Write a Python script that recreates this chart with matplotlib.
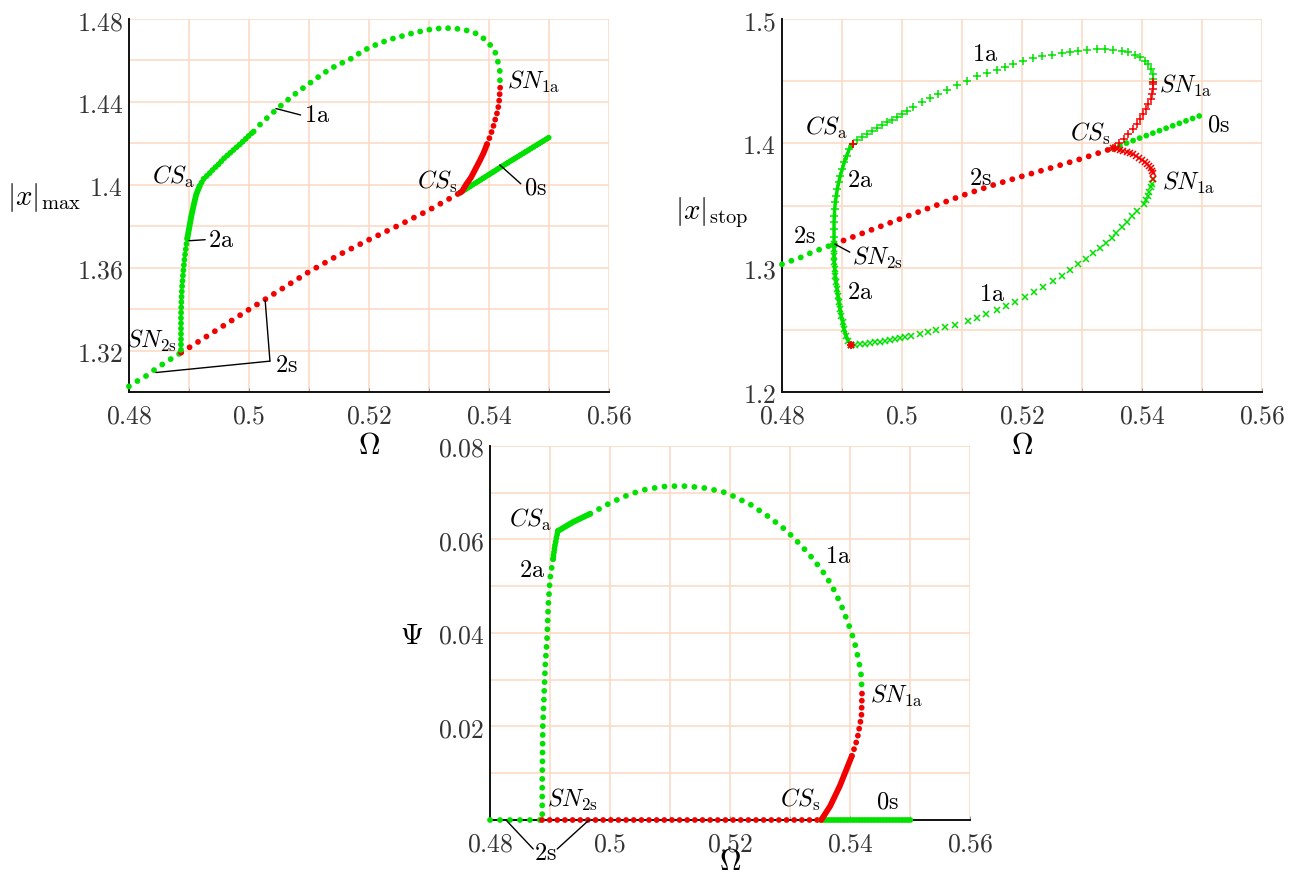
import numpy as np
import matplotlib
matplotlib.use("Agg")
import matplotlib.pyplot as plt
from matplotlib.ticker import FixedLocator, MultipleLocator, FuncFormatter

plt.rcParams["mathtext.fontset"] = "cm"

GREEN = "#00e100"
RED = "#f20000"
GRID = "#fdd8c2"

# symmetric branch 2s (stable part, then unstable part) and 0s
om_2s = [0.48, 0.4813, 0.483, 0.4845, 0.4863, 0.4887]
x_2s = [1.3027, 1.3051, 1.308, 1.3113, 1.3147, 1.319]
om_2s_u = [0.4887, 0.495, 0.5, 0.505, 0.51, 0.515, 0.52, 0.525, 0.53, 0.5352]
x_2s_u = [1.319, 1.3306, 1.3398, 1.3489, 1.358, 1.3662, 1.3735, 1.3805, 1.3878, 1.3962]
om_0s = [0.5352, 0.5425, 0.5502]
x_0s = [1.3962, 1.4095, 1.4232]

# asymmetric branch 1a, stable part from CS_a to SN_1a (upper stop = |x|max)
om_1a = [0.49178, 0.49245, 0.49328, 0.49411, 0.49495, 0.49578, 0.49661, 0.49745,
         0.49828, 0.49911, 0.49995, 0.50078, 0.50189, 0.50328, 0.50467, 0.50605,
         0.50745, 0.50911, 0.51078, 0.51245, 0.51411, 0.51578, 0.51717, 0.51855,
         0.52022, 0.52189, 0.52328, 0.52495, 0.52662, 0.528, 0.52938, 0.53078,
         0.53245, 0.53383, 0.53522, 0.53662, 0.53772, 0.53883, 0.53967, 0.5405,
         0.54105, 0.54145, 0.54178, 0.54188, 0.54178]
x_1a = [1.3994, 1.4029, 1.4051, 1.4077, 1.4099, 1.4126, 1.4147, 1.4169,
        1.419, 1.4212, 1.4236, 1.4257, 1.4292, 1.433, 1.4366, 1.44,
        1.4433, 1.4469, 1.4504, 1.4539, 1.4568, 1.4592, 1.4611, 1.4638,
        1.4665, 1.4684, 1.47, 1.4713, 1.4727, 1.4737, 1.4745, 1.4753,
        1.4756, 1.4756, 1.4751, 1.4743, 1.4732, 1.4713, 1.4692, 1.4665,
        1.4638, 1.4598, 1.4558, 1.4517, 1.4493]
# 1a unstable part, CS_s -> SN_1a
om_1a_u = [0.5352, 0.5355, 0.53622, 0.537, 0.53772, 0.53845, 0.53912, 0.53967,
           0.54022, 0.54067, 0.54105, 0.54145, 0.54167, 0.54178, 0.54188, 0.54178]
x_1a_u = [1.3962, 1.3968, 1.4003, 1.4035, 1.4075, 1.4115, 1.4155, 1.4196,
          1.4236, 1.4276, 1.4316, 1.4357, 1.4397, 1.4437, 1.4477, 1.4493]

# lower stop value of 1a: unstable CS_s -> SN_1a, stable SN_1a -> corner
om_1a_lu = [0.5352, 0.5358, 0.53633, 0.5369, 0.53745, 0.538, 0.53855, 0.53905,
            0.53955, 0.54, 0.5405, 0.5409, 0.54122, 0.54148, 0.54167, 0.54182, 0.54188]
x_1a_lu = [1.3962, 1.3956, 1.3949, 1.3941, 1.3932, 1.3923, 1.3913, 1.39,
           1.3886, 1.387, 1.3852, 1.3836, 1.382, 1.38, 1.3781, 1.376, 1.3714]
om_1a_l = [0.54188, 0.54172, 0.5415, 0.54122, 0.54095, 0.54067, 0.54033, 0.53912,
           0.53828, 0.53745, 0.53662, 0.53567, 0.53495, 0.534, 0.533, 0.53188,
           0.53067, 0.52938, 0.528, 0.52662, 0.52512, 0.52355, 0.52205, 0.5205,
           0.51883, 0.51733, 0.51578, 0.51405, 0.51255, 0.511, 0.50888, 0.50722,
           0.50572, 0.50433, 0.50295, 0.50155, 0.50045, 0.49962, 0.49878, 0.49795,
           0.49712, 0.49628, 0.49545, 0.49462, 0.49378, 0.49295, 0.49212, 0.49145]
x_1a_l = [1.3714, 1.3673, 1.3646, 1.3611, 1.3579, 1.3544, 1.3512, 1.3458,
          1.3413, 1.3364, 1.3324, 1.3276, 1.3238, 1.3198, 1.3155, 1.3115,
          1.3069, 1.3029, 1.2983, 1.2935, 1.289, 1.2847, 1.2806, 1.2766,
          1.2726, 1.2694, 1.2659, 1.2627, 1.2598, 1.2573, 1.2538, 1.2519,
          1.2498, 1.2479, 1.2466, 1.2452, 1.2439, 1.2431, 1.2426, 1.2418,
          1.241, 1.2404, 1.2399, 1.2393, 1.2388, 1.2383, 1.238, 1.2377]

# branch 2a: CS_a -> SN_2s (upper) and corner -> SN_2s (lower)
om_2a = [0.49178, 0.49122, 0.49078, 0.49038, 0.49005, 0.48972, 0.48945, 0.48922,
         0.48905, 0.48889, 0.48878, 0.48872, 0.48867, 0.48867, 0.48867, 0.48867]
x_2a = [1.3994, 1.3954, 1.3901, 1.3847, 1.3794, 1.374, 1.3687, 1.3633,
        1.3579, 1.3526, 1.3472, 1.3418, 1.3365, 1.331, 1.325, 1.319]
om_2a_l = [0.49145, 0.49105, 0.49067, 0.49033, 0.49012, 0.48988, 0.48967, 0.4895,
           0.48933, 0.48917, 0.489, 0.48889, 0.48878, 0.48872, 0.48867, 0.48867, 0.48867]
x_2a_l = [1.2377, 1.2412, 1.2452, 1.2506, 1.256, 1.2613, 1.2667, 1.2721,
          1.2774, 1.2828, 1.2882, 1.2935, 1.2989, 1.3043, 1.3096, 1.315, 1.319]

# asymmetry measure Psi
om_psi_1a = [0.4913, 0.4938, 0.4967, 0.5, 0.5033, 0.5062, 0.5095, 0.5128, 0.5158,
             0.5188, 0.5205, 0.5235, 0.5265, 0.5293, 0.5318, 0.534, 0.536, 0.5375,
             0.5388, 0.5398, 0.5407, 0.5413, 0.5418, 0.5419, 0.542]
psi_1a = [0.0618, 0.0637, 0.0655, 0.0678, 0.0697, 0.0708, 0.0714, 0.0714, 0.071,
          0.0702, 0.0693, 0.0674, 0.0648, 0.062, 0.0588, 0.0556, 0.0522, 0.0488,
          0.0451, 0.0417, 0.0383, 0.0349, 0.0317, 0.0295, 0.0274]
om_psi_1a_u = [0.5352, 0.5367, 0.5383, 0.5403, 0.5412, 0.5419, 0.542]
psi_1a_u = [0.0, 0.003, 0.0073, 0.0137, 0.0173, 0.0222, 0.0274]
om_psi_2a = [0.4913, 0.4908, 0.4905, 0.49, 0.4897, 0.4895, 0.4892, 0.4888, 0.4887, 0.4887]
psi_2a = [0.0618, 0.0586, 0.0558, 0.0516, 0.0458, 0.0387, 0.033, 0.0201, 0.0081, 0.0]


def dots(ax, om, val, color, gap, lw=4.2):
    ls = "-" if gap == 0 else (0, (0.01, gap))
    ax.plot(om, val, color=color, lw=lw, ls=ls, dash_capstyle="round",
            solid_capstyle="round", zorder=3, clip_on=False)


def fmt(v, pos):
    return f"${v:g}$"


def setup(ax, ylim, ymajor, yminor, ylabel, ylab_xy, xlab_y, xlab_va="top"):
    ax.set_xlim(0.48, 0.56)
    ax.set_ylim(*ylim)
    ax.xaxis.set_major_locator(FixedLocator([0.48, 0.5, 0.52, 0.54, 0.56]))
    ax.xaxis.set_minor_locator(MultipleLocator(0.01))
    ax.yaxis.set_major_locator(FixedLocator(ymajor))
    ax.yaxis.set_minor_locator(MultipleLocator(yminor))
    ax.xaxis.set_major_formatter(FuncFormatter(fmt))
    ax.yaxis.set_major_formatter(FuncFormatter(fmt))
    ax.grid(which="both", color=GRID, lw=1.1)
    ax.set_axisbelow(True)
    for s in ["top", "right"]:
        ax.spines[s].set_visible(False)
    for s in ["left", "bottom"]:
        ax.spines[s].set_color("#111111")
        ax.spines[s].set_linewidth(1.4)
    ax.tick_params(axis="x", which="both", direction="in", length=3, color="#999999",
                   labelsize=18.5, pad=7.5, labelcolor="#333333")
    ax.tick_params(axis="y", which="both", length=0, labelsize=18.5, pad=4,
                   labelcolor="#333333")
    ax.set_xlabel(r"$\Omega$", fontsize=21.5, va=xlab_va)
    ax.xaxis.set_label_coords(0.5, xlab_y)
    ax.set_ylabel(ylabel, fontsize=21, rotation=0, ha="center", va="center")
    ax.yaxis.set_label_coords(*ylab_xy)


def label(ax, x, y, s, ha="center"):
    ax.text(x, y, s, fontsize=17.5, ha=ha, va="center", zorder=5)


def leader(ax, p0, p1):
    ax.annotate("", xy=p0, xytext=p1, annotation_clip=False,
                arrowprops=dict(arrowstyle="-", lw=1.0, color="k", shrinkA=0, shrinkB=0))


fig = plt.figure(figsize=(12.96, 8.79), dpi=100)
ax1 = fig.add_axes([0.0995, 0.5529, 0.3704, 0.4243])
ax2 = fig.add_axes([0.6034, 0.5529, 0.3704, 0.4243])
ax3 = fig.add_axes([0.3781, 0.066, 0.3704, 0.4255])

# |x|max
setup(ax1, (1.30, 1.48), [1.32, 1.36, 1.40, 1.44, 1.48], 0.02,
      r"$|x|_{\max}$", (-0.177, 0.525), -0.102)
dots(ax1, om_2s, x_2s, GREEN, 1.7)
dots(ax1, om_2s_u, x_2s_u, RED, 1.7)
dots(ax1, om_0s, x_0s, GREEN, 0.5)
dots(ax1, om_1a_u[:8], x_1a_u[:8], RED, 0)
dots(ax1, om_1a_u[7:], x_1a_u[7:], RED, 1.1)
dots(ax1, om_1a[:12], x_1a[:12], GREEN, 0.7)
dots(ax1, om_1a[11:], x_1a[11:], GREEN, 1.6)
dots(ax1, om_2a[:6], x_2a[:6], GREEN, 0)
dots(ax1, om_2a[5:], x_2a[5:], GREEN, 0.9)

leader(ax1, (0.5045, 1.4368), (0.5086, 1.4337))
label(ax1, 0.5091, 1.4342, r"$\mathrm{1a}$", "left")
leader(ax1, (0.5418, 1.4096), (0.5453, 1.4005))
label(ax1, 0.5458, 1.399, r"$\mathrm{0s}$", "left")
leader(ax1, (0.4900, 1.373), (0.4927, 1.3735))
label(ax1, 0.4932, 1.3737, r"$\mathrm{2a}$", "left")
leader(ax1, (0.4845, 1.3094), (0.5035, 1.3149))
leader(ax1, (0.5027, 1.3442), (0.5035, 1.3149))
label(ax1, 0.5043, 1.3133, r"$\mathrm{2s}$", "left")
label(ax1, 0.491, 1.4043, r"$CS_{\mathrm{a}}$", "right")
label(ax1, 0.5347, 1.4019, r"$CS_{\mathrm{s}}$", "right")
label(ax1, 0.543, 1.4501, r"$SN_{\mathrm{1a}}$", "left")
label(ax1, 0.488, 1.3253, r"$SN_{\mathrm{2s}}$", "right")

# |x|stop
setup(ax2, (1.2, 1.5), [1.2, 1.3, 1.4, 1.5], 0.05,
      r"$|x|_{\mathrm{stop}}$", (-0.146, 0.483), -0.102)
dots(ax2, om_2s, x_2s, GREEN, 1.7)
dots(ax2, om_2s_u, x_2s_u, RED, 1.7)
dots(ax2, om_0s, x_0s, GREEN, 1.2)
ax2.plot(om_2a, x_2a, color=GREEN, lw=2.5, zorder=3)
ax2.plot(om_2a_l, x_2a_l, color=GREEN, lw=2.5, zorder=3)
ax2.plot(om_2a, x_2a, "+", color=GREEN, ms=6, mew=1.1, zorder=3)
ax2.plot(om_2a_l, x_2a_l, "x", color=GREEN, ms=4.5, mew=1.1, zorder=3)
ax2.plot(om_1a, x_1a, "+", color=GREEN, ms=6, mew=1.1, zorder=3)
ax2.plot(om_1a_l, x_1a_l, "x", color=GREEN, ms=4.5, mew=1.1, zorder=3)
ax2.plot(om_1a_u, x_1a_u, "+", color=RED, ms=6, mew=1.1, zorder=4)
ax2.plot(om_1a_lu, x_1a_lu, "x", color=RED, ms=4.5, mew=1.1, zorder=4)
ax2.plot(om_1a[0], x_1a[0], "+", color=RED, ms=6, mew=1.3, zorder=4)
ax2.plot(om_1a_l[-1], x_1a_l[-1], "+", color=RED, ms=6, mew=1.3, zorder=4)
ax2.plot(om_1a_l[-1], x_1a_l[-1], "x", color=RED, ms=4.5, mew=1.3, zorder=4)

label(ax2, 0.5138, 1.4726, r"$\mathrm{1a}$")
label(ax2, 0.515, 1.2796, r"$\mathrm{1a}$")
label(ax2, 0.4873, 1.4131, r"$CS_{\mathrm{a}}$")
label(ax2, 0.493, 1.3713, r"$\mathrm{2a}$")
label(ax2, 0.493, 1.2812, r"$\mathrm{2a}$")
label(ax2, 0.513, 1.3729, r"$\mathrm{2s}$")
label(ax2, 0.4838, 1.3262, r"$\mathrm{2s}$")
label(ax2, 0.5313, 1.4083, r"$CS_{\mathrm{s}}$")
label(ax2, 0.5472, 1.4469, r"$SN_{\mathrm{1a}}$")
label(ax2, 0.5477, 1.3689, r"$SN_{\mathrm{1a}}$")
label(ax2, 0.5527, 1.4163, r"$\mathrm{0s}$")
leader(ax2, (0.4888, 1.319), (0.4913, 1.3125))
label(ax2, 0.4917, 1.3085, r"$SN_{\mathrm{2s}}$", "left")

# Psi
setup(ax3, (0, 0.08), [0.02, 0.04, 0.06, 0.08], 0.01,
      r"$\Psi$", (-0.1625, 0.495), -0.148, "bottom")
dots(ax3, om_2s, np.zeros(len(om_2s)), GREEN, 1.7)
dots(ax3, om_2s_u, np.zeros(len(om_2s_u)), RED, 1.3)
dots(ax3, om_0s, np.zeros(len(om_0s)), GREEN, 0.5)
dots(ax3, om_psi_1a[:3], psi_1a[:3], GREEN, 0)
dots(ax3, om_psi_1a[2:], psi_1a[2:], GREEN, 1.7)
dots(ax3, om_psi_1a_u[:4], psi_1a_u[:4], RED, 0)
dots(ax3, om_psi_1a_u[3:], psi_1a_u[3:], RED, 1.2)
dots(ax3, om_psi_2a[:3], psi_2a[:3], GREEN, 0.6)
dots(ax3, om_psi_2a[2:], psi_2a[2:], GREEN, 1.5)

label(ax3, 0.4867, 0.0644, r"$CS_{\mathrm{a}}$")
label(ax3, 0.487, 0.0537, r"$\mathrm{2a}$")
label(ax3, 0.538, 0.0567, r"$\mathrm{1a}$")
label(ax3, 0.5477, 0.0267, r"$SN_{\mathrm{1a}}$")
label(ax3, 0.5317, 0.0045, r"$CS_{\mathrm{s}}$")
label(ax3, 0.5463, 0.0041, r"$\mathrm{0s}$")
label(ax3, 0.4938, 0.0045, r"$SN_{\mathrm{2s}}$")
leader(ax3, (0.4828, -0.0002), (0.4872, -0.0062))
leader(ax3, (0.4965, 0.0), (0.4912, -0.0062))
label(ax3, 0.4892, -0.0068, r"$\mathrm{2s}$")

fig.savefig("out.png", dpi=100)
